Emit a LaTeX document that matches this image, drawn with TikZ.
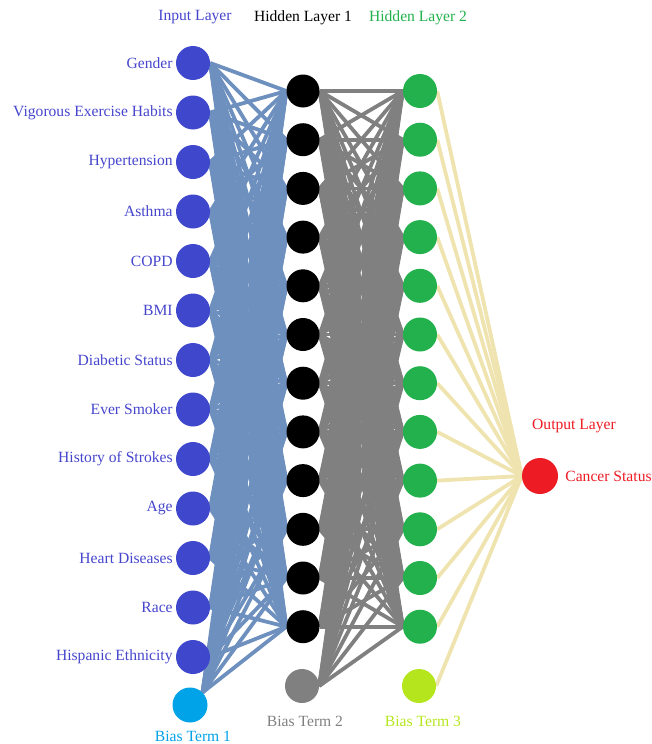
\documentclass[tikz,border=0pt]{standalone}
\usepackage{fontspec}
\setmainfont{Liberation Serif}
\usepackage{xcolor}
\usetikzlibrary{positioning,backgrounds}

\definecolor{inblue}{RGB}{63,72,204}
\definecolor{txtblue}{RGB}{70,70,205}
\definecolor{biasblue}{RGB}{0,162,232}
\definecolor{hidgreen}{RGB}{34,177,76}
\definecolor{biaslime}{RGB}{181,230,29}
\definecolor{outred}{RGB}{237,28,36}
\definecolor{wblue}{RGB}{110,144,190}
\definecolor{wgray}{RGB}{128,128,128}
\definecolor{wbeige}{RGB}{239,228,176}

\begin{document}
\begin{tikzpicture}[x=1pt,y=-1pt,
  neuron/.style={circle,inner sep=0pt,minimum size=34pt},
  lbl/.style={font=\fontsize{15.6}{18}\selectfont,inner sep=1pt},
  edge/.style={line width=3.8pt}]
\useasboundingbox (0,0) rectangle (651,744);

% neurons
\foreach \i in {1,...,13}
  \node[neuron,fill=inblue] (in\i) at (193,{63+(\i-1)*49.5}) {};
\node[neuron,fill=biasblue,minimum size=35pt] (b1) at (190,705) {};

\foreach \j in {1,...,12}
  \node[neuron,fill=black,minimum size=33pt] (ha\j) at (303,{91+(\j-1)*48.7}) {};
\node[neuron,fill=wgray] (b2) at (302,686) {};

\foreach \j in {1,...,12}
  \node[neuron,fill=hidgreen] (hb\j) at (420,{91+(\j-1)*48.7}) {};
\node[neuron,fill=biaslime] (b3) at (419,686) {};

\node[neuron,fill=outred,minimum size=36pt] (out) at (540,476) {};

% input names
\foreach \i/\t in {1/Gender,2/Vigorous Exercise Habits,3/Hypertension,4/Asthma,
  5/COPD,6/BMI,7/Diabetic Status,8/Ever Smoker,9/History of Strokes,10/Age,
  11/Heart Diseases,12/Race,13/Hispanic Ethnicity}
  \node[lbl,text=txtblue,left=2pt of in\i] (nm\i) {\t};

% layer titles
\node[lbl,text=txtblue] (tin) at (195,17) {Input Layer};
\node[lbl] (tha) at (303,18) {Hidden Layer 1};
\node[lbl,text=hidgreen] (thb) at (418,18) {Hidden Layer 2};
\node[lbl,text=outred] (tout) at (574,426) {Output Layer};
\node[lbl,text=outred,right=6pt of out] (nmout) {Cancer Status};
\node[lbl,text=biasblue] (tb1) at (193,736) {Bias Term 1};
\node[lbl,text=wgray] (tb2) at (305,721) {Bias Term 2};
\node[lbl,text=biaslime] (tb3) at (423,721) {Bias Term 3};

% weights
\begin{pgfonlayer}{background}
\foreach \j in {1,...,12} {
  \foreach \i in {1,...,13}
    \draw[edge,wblue] (in\i.east) -- (ha\j.west);
  \draw[edge,wblue] (b1.north east) -- (ha\j.west);
}
\foreach \k in {1,...,12} {
  \foreach \j in {1,...,12}
    \draw[edge,wgray] (ha\j.east) -- (hb\k.west);
  \draw[edge,wgray] (b2.east) -- (hb\k.west);
}
\foreach \k in {1,...,12}
  \draw[edge,wbeige] (hb\k.east) -- (out.west);
\draw[edge,wbeige] (b3.east) -- (out.west);
\end{pgfonlayer}
\end{tikzpicture}
\end{document}
